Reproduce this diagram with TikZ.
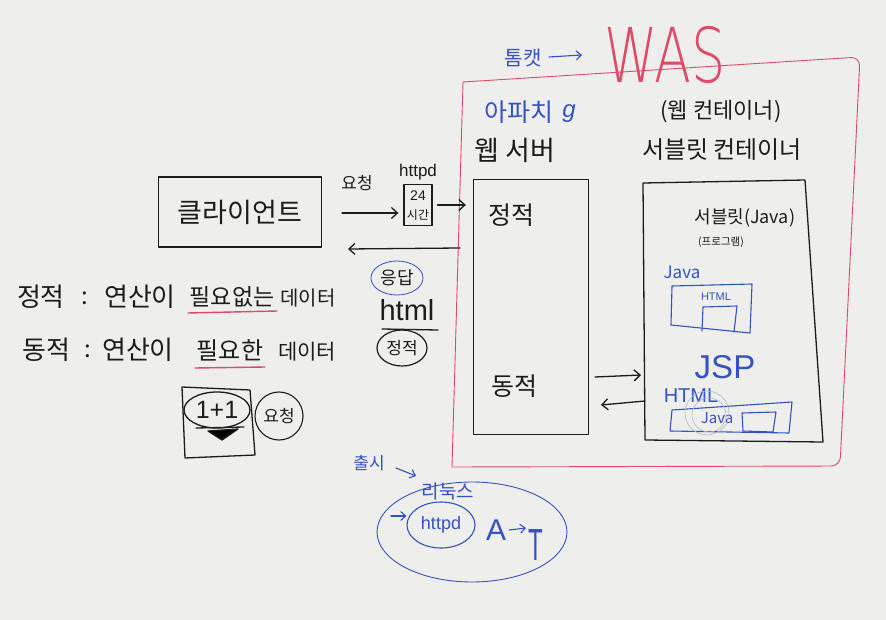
\documentclass[tikz,border=0pt]{standalone}
\usepackage{fontspec}
\usepackage{graphicx}
\setmainfont{Noto Sans CJK KR}
\newfontfamily\latf{Liberation Sans}
\newfontfamily\thinf{DejaVu Sans ExtraLight}
\usetikzlibrary{arrows.meta,shapes.geometric}
\definecolor{board}{HTML}{EEEEEC}
\definecolor{ink}{HTML}{1C1C1C}
\definecolor{mblue}{HTML}{3352C4}
\definecolor{mred}{HTML}{E04A66}
\newcommand{\hfs}[1]{\fontsize{#1}{#1}\selectfont}
\begin{document}
\begin{tikzpicture}[x=1pt,y=-1pt,
 ink/.style={draw=ink,line width=1.3pt,line cap=round,line join=round},
 bink/.style={draw=mblue,line width=1.1pt,line cap=round,line join=round},
 rink/.style={draw=mred,line width=0.9pt,line cap=round,line join=round},
 arr/.style={ink,-{Straight Barb[length=6pt,width=11pt]}},
 barr/.style={bink,-{Straight Barb[length=5pt,width=9pt]}},
 t/.style={inner sep=0pt,text=ink},
 bt/.style={inner sep=0pt,text=mblue},
 rt/.style={inner sep=0pt,text=mred},
 box/.style={ink,inner sep=0pt},
 oval/.style={ellipse,inner sep=0pt},
]
\fill[board] (0,0) rectangle (886,620);
\useasboundingbox (0,0) rectangle (886,620);

% ---- WAS (red) ----
\draw[rink] (452,467) -- (463,82) [rounded corners=9pt] -- (860,57) -- (840,466) [sharp corners] -- cycle;
\node[rt,font=\thinf\hfs{54}] (was) at (665,55) {\scalebox{1}[1.4]{WAS}};
\node[bt,font=\hfs{20}] (tomcat) at (523,58) {톰캣};
\coordinate (tomA) at (549,57);
\coordinate (tomB) at (582,55);
\draw[barr] (tomA) -- (tomB);

% ---- headings ----
\node[bt,font=\hfs{25}] (apache) at (519,112) {아파치};
\node[bt,font=\latf\itshape\hfs{24}] (apg) at (569,114) {g};
\node[t,font=\hfs{27}] (websrv) at (515,150) {웹 서버};
\node[t,font=\hfs{22}] (wcont) at (721,112) {(웹 컨테이너)};
\node[t,font=\hfs{24}] (scont) at (722,150) {서블릿 컨테이너};

% ---- web server box ----
\node[box,minimum width=115pt,minimum height=255pt] (wsbox) at (531,307) {};
\node[t,font=\hfs{25}] (static) at (511,215) {정적};
\node[t,font=\hfs{25}] (dynamic) at (514,386) {동적};

% ---- servlet container box ----
\draw[ink] (643,183) -- (805,180) -- (823,442) -- (645,440) -- cycle;
\node[t,font=\hfs{18}] (servlet) at (745,218) {서블릿(Java)};
\node[t,font=\hfs{10.5}] (prog) at (721,242) {(프로그램)};
\node[bt,font=\hfs{17}] (java1) at (682,272) {Java};
\draw[bink] (672,286) -- (752,284) -- (750,333) -- (671,325) -- cycle;
\node[bt,font=\latf\hfs{11}] (html1) at (716,297) {HTML};
\draw[bink] (702,331) -- (703,307) -- (737,306) -- (734,332);

\node[bt,font=\latf\hfs{33}] (jsp) at (725,367) {JSP};
\node[bt,font=\latf\hfs{20}] (html2) at (691,396) {HTML};
\draw[bink] (672,410) -- (792,402) -- (789,433) -- (670,431) -- cycle;
\node[bt,font=\hfs{15}] (java2) at (717,418) {Java};
\draw[bink] (742,413) -- (776,412) -- (773,432) -- (743,431) -- cycle;
\draw[gray!55,line width=0.6pt] (707,413) circle[radius=22];
\draw[gray!55,line width=0.6pt] (709,415) circle[radius=17];

% arrows web server <-> servlet container
\coordinate (d1s) at (595,377);
\coordinate (d1e) at (641,375);
\draw[arr] (d1s) -- (d1e);
\coordinate (d2s) at (645,401);
\coordinate (d2e) at (601,405);
\draw[arr] (d2s) -- (d2e);

% ---- client ----
\node[box,minimum width=163pt,minimum height=70pt,font=\hfs{27},text=ink] (client) at (240,212) {클라이언트};
\node[t,font=\hfs{17}] (req) at (357,183) {요청};
\node[t,font=\latf\hfs{17}] (httpd) at (418,172) {httpd};
\node[box,minimum width=28pt,minimum height=41pt] (hbox) at (418,205) {};
\node[t,font=\latf\hfs{14}] (h24) at (418,196) {24};
\node[t,font=\hfs{12}] (hsi) at (418,215) {시간};
\coordinate (rq1) at (342,213);
\draw[arr,shorten >=5pt] (rq1) -- (rq1 -| hbox.west);
\draw[arr,shorten <=5pt,shorten >=7pt] (hbox.east) -- (hbox.east -| wsbox.west);
\coordinate (rs1) at (460,248);
\coordinate (rs2) at (348,249);
\draw[arr] (rs1) -- (rs2);

\node[oval,draw=mblue,line width=0.8pt,minimum width=52pt,minimum height=34pt,font=\hfs{18},text=ink] (resp) at (397,278) {응답};
\node[t,font=\latf\hfs{29}] (html) at (407,310) {html};
\draw[ink] (382,329) -- (438,330);
\node[oval,draw=ink,line width=1.2pt,minimum width=50pt,minimum height=36pt,font=\hfs{17},text=ink] (stat2) at (402,348) {정적};

% ---- definitions ----
\node[t,font=\hfs{26}] (l1a) at (41,297) {정적};
\node[t,font=\hfs{24}] (l1b) at (85,298) {:};
\node[t,font=\hfs{26}] (l1c) at (140,297) {연산이};
\node[t,font=\hfs{23}] (l1d) at (232,297) {필요없는};
\node[t,font=\hfs{20}] (l1e) at (308,298) {데이터};
\draw[rink,line width=1.4pt] (188,313) -- (277,311);

\node[t,font=\hfs{26}] (l2a) at (46,350) {동적};
\node[t,font=\hfs{24}] (l2b) at (88,351) {:};
\node[t,font=\hfs{26}] (l2c) at (138,350) {연산이};
\node[t,font=\hfs{24}] (l2d) at (230,350) {필요한};
\node[t,font=\hfs{21}] (l2e) at (307,352) {데이터};
\draw[rink,line width=1.4pt] (195,368) -- (265,367);

% ---- 1+1 box ----
\draw[ink] (182,387) -- (250,390) -- (255,455) -- (185,458) -- cycle;
\node[oval,draw=ink,line width=1.3pt,minimum width=66pt,minimum height=36pt,font=\latf\hfs{25},text=ink] (calc) at (217,410) {1+1};
\draw[ink] (196,428) -- (244,427);
\fill[ink] (208,431) -- (238,429) -- (222,440) -- cycle;
\node[oval,draw=ink,line width=1.1pt,minimum width=48pt,minimum height=48pt,font=\hfs{17},text=ink] (req2) at (279,416) {요청};

% ---- bottom: release / linux ----
\node[bt,font=\hfs{17}] (release) at (369,463) {출시};
\coordinate (ra) at (396,468);
\coordinate (rb) at (416,476);
\draw[barr] (ra) -- (rb);
\node[oval,draw=mblue,line width=0.9pt,minimum width=190pt,minimum height=100pt] (linuxov) at (472,532) {};
\node[bt,font=\hfs{19}] (linux) at (448,491) {리눅스};
\node[oval,draw=mblue,line width=1.1pt,minimum width=68pt,minimum height=46pt,font=\latf\hfs{18},text=mblue] (httpd2) at (441,525) {httpd};
\coordinate (ha) at (391,516);
\draw[barr] (ha) -- (httpd2.west |- ha);
\node[bt,font=\latf\hfs{30}] (aa) at (496,530) {A};
\node[bt,font=\latf\hfs{30}] (tt) at (536,545) {\scalebox{0.8}[1.5]{T}};
\draw[barr] (aa.east) ++(3,0) -- (526,528);
\end{tikzpicture}
\end{document}
